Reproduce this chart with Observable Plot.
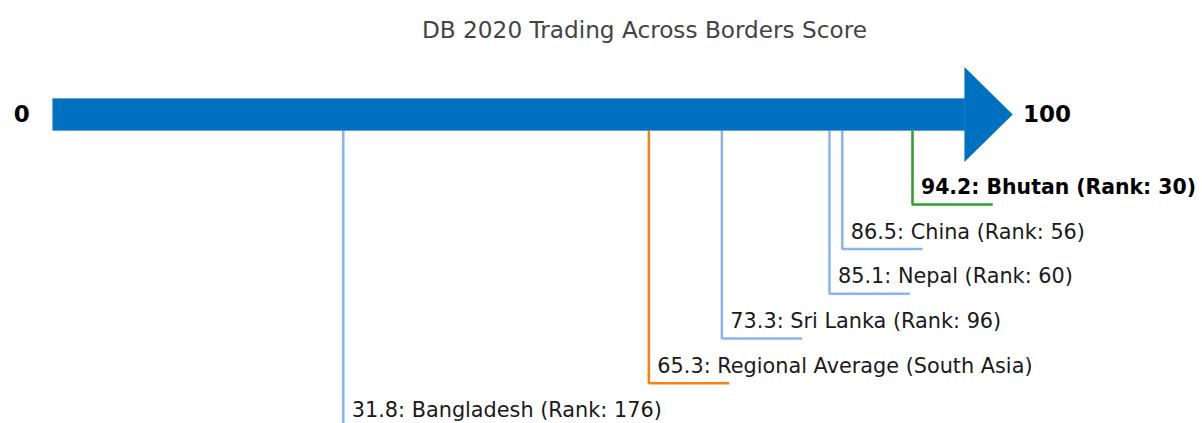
<!DOCTYPE html>
<html><head><meta charset="utf-8">
<script src="https://cdn.jsdelivr.net/npm/d3@7"></script>
<script src="https://cdn.jsdelivr.net/npm/@observablehq/plot@0.6"></script>
<style>body{margin:0;background:#fff;} svg{display:block;}</style>
</head><body><div id="chart"></div>
<script>
// ---- data ----
const chartTitle = "DB 2020 Trading Across Borders Score";
const economies = ["Bhutan", "China", "Nepal", "Sri Lanka", "Regional Average (South Asia)", "Bangladesh"];
const scores = [94.2, 86.5, 85.1, 73.3, 65.3, 31.8];
const ranks = [30, 56, 60, 96, null, 176];
const kinds = ["focus", "peer", "peer", "peer", "region", "peer"];
const scaleEnds = [0, 100];
const endLabels = ["0", "100"];

// ---- build table ----
const order = d3.range(scores.length).sort((a, b) => scores[b] - scores[a]);
const rows = order.map((i, k) => ({
  name: economies[i], score: scores[i], rank: ranks[i], kind: kinds[i], level: k + 2,
  label: `${scores[i].toFixed(1)}: ${economies[i]}` + (ranks[i] != null ? ` (Rank: ${ranks[i]})` : "")
}));
const leader = 8.8; // horizontal leader length in score units
const pts = rows.flatMap(r => [
  {id: r.name, kind: r.kind, x: r.score, y: 0},
  {id: r.name, kind: r.kind, x: r.score, y: r.level},
  {id: r.name, kind: r.kind, x: r.score + leader, y: r.level}
]);
const shaftHalf = 0.358, headHalf = 1.063, tip = 105.24;
const arrowBlue = "#0070c0";
const colorMap = {focus: "#2ca02c", region: "#ff7f0e", peer: "#8ab4f0"};
const labelOpts = {x: "score", y: "level", text: "label", textAnchor: "start", lineAnchor: "bottom", dx: 8.5, dy: -10.5, fontSize: 20.8};

const chart = Plot.plot({
  width: 1202, height: 423,
  marginTop: 0, marginBottom: 0, marginLeft: 0, marginRight: 0,
  style: {fontFamily: "DejaVu Sans", background: "#fff", overflow: "hidden"},
  x: {domain: scaleEnds, range: [52.7, 964.9], axis: null},
  y: {domain: [0, 7], range: [114.5, 427.4], axis: null},
  marks: [
    Plot.line(pts, {x: "x", y: "y", z: "id", stroke: d => colorMap[d.kind], strokeWidth: 2.5, strokeLinejoin: "miter", strokeLinecap: "butt"}),
    Plot.rect([{x1: scaleEnds[0], x2: scaleEnds[1], y1: -shaftHalf, y2: shaftHalf}], {x1: "x1", x2: "x2", y1: "y1", y2: "y2", fill: arrowBlue, stroke: "#5a9bd8", strokeWidth: 0.8}),
    Plot.areaY([{x: scaleEnds[1] - 0.05, y1: -headHalf, y2: headHalf}, {x: tip, y1: 0, y2: 0}], {x: "x", y1: "y1", y2: "y2", fill: arrowBlue, curve: "linear"}),
    Plot.text(rows.filter(d => d.kind !== "focus"), {...labelOpts, fill: "#1a1a1a"}),
    Plot.text(rows.filter(d => d.kind === "focus"), {...labelOpts, fill: "#000", fontWeight: "bold", fontSize: 20.4}),
    Plot.text([0], {x: () => scaleEnds[0], y: () => 0, text: () => endLabels[0], textAnchor: "end", dx: -23.5, fontSize: 23, fontWeight: "bold", fill: "#000"}),
    Plot.text([0], {x: () => scaleEnds[1], y: () => 0, text: () => endLabels[1], textAnchor: "start", dx: 57.5, fontSize: 23, fontWeight: "bold", fill: "#000"}),
    Plot.text([chartTitle], {frameAnchor: "top", text: d => d, lineAnchor: "bottom", dx: 43, dy: 37.5, fontSize: 23.2, fill: "#444"})
  ]
});
document.getElementById("chart").appendChild(chart);
</script>
</body></html>
